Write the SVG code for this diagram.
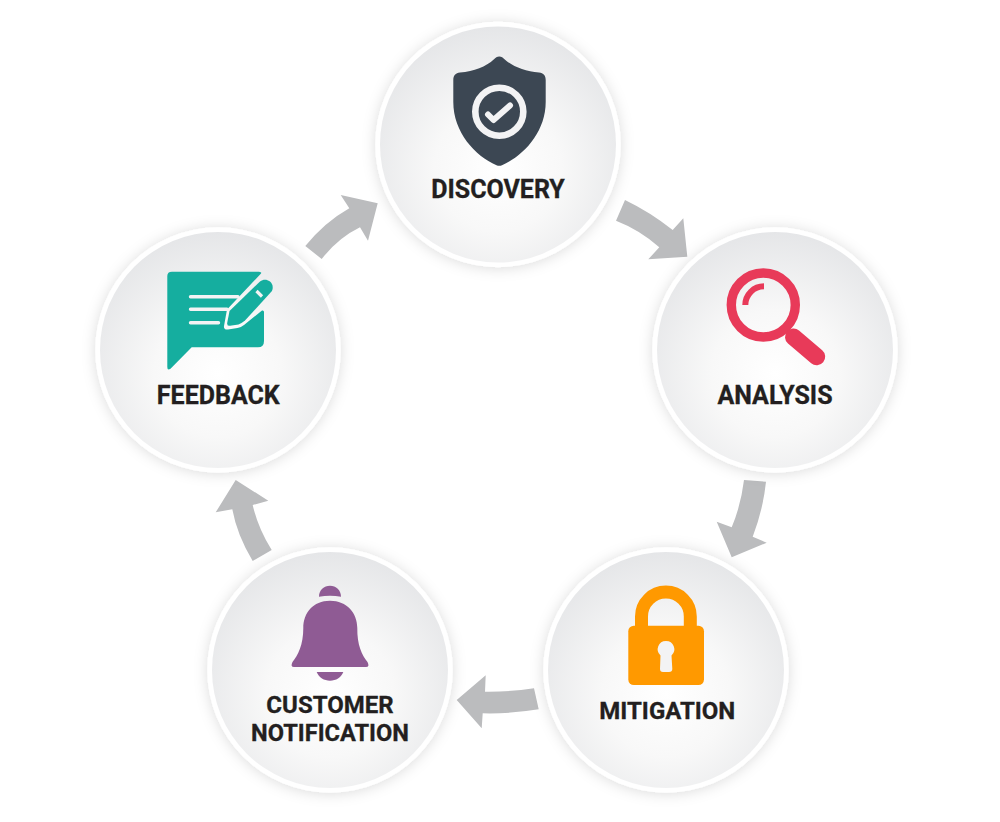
<svg xmlns="http://www.w3.org/2000/svg" width="1000" height="822" viewBox="0 0 1000 822">
<style>
.ring{fill:#fff;filter:url(#sh)}
.disc{fill:url(#g)}
.lbl{font-family:Roboto,"Liberation Sans",sans-serif;font-weight:700;font-size:25px;fill:#231f20;stroke:#231f20;stroke-width:0.3px;text-anchor:middle}
.sm{font-size:24px}
.arrow{fill:#bbbcbe}
.gap{fill:none;stroke:#f3f3f4;stroke-linecap:round}
</style>
<defs>
<radialGradient id="g" cx="0.5" cy="0.6" r="0.6">
<stop offset="0" stop-color="#ffffff"/><stop offset="0.45" stop-color="#f8f8f8"/><stop offset="1" stop-color="#e5e6e8"/>
</radialGradient>
<filter id="sh" x="-20%" y="-20%" width="140%" height="140%">
<feDropShadow dx="0" dy="1" stdDeviation="7" flood-color="#000" flood-opacity="0.14"/>
</filter>
</defs>
<rect width="1000" height="822" fill="#fff"/>
<g id="connectors">
<path class="arrow" d="M305.3,246Q325,222 349.3,208.3L340.7,195L377.7,203.3L368,240.7L360,227.3Q338,238 321.7,259Z"/>
<path class="arrow" d="M625,200Q650,212 672.7,230L683.3,218.3L687.3,256.7L648.3,259.3L659.3,247.3Q640,230 616,220.7Z"/>
<path class="arrow" d="M744,480Q741,505 731.7,527.3L716.7,521.7L731.7,557.3L766.7,542.7L752.7,536.7Q763,510 766,481.7Z"/>
<path class="arrow" d="M534,688.3Q510,692 485,691.7L485.7,675.3L456.7,700L481.7,728.3L482.7,713.3Q510,714 538.7,709.3Z"/>
<path class="arrow" d="M252.7,561Q237,535 232.3,509.3L215.7,512.3L235.7,480L268.3,500.7L252.7,505Q258,528 271.7,550Z"/>
</g>
<g id="discovery">
<circle class="ring" cx="498" cy="144.5" r="122.7"/>
<circle class="disc" cx="498" cy="144.5" r="118"/>
<path fill="#3c4753" d="M499.3,56.5C497,56.5 495.5,57.8 494,59.2C486,66.5 474,71.5 460,72.5C455.5,73 453.3,75.5 453.3,80V102C453.3,132 475,156 496.5,165.2Q499.3,166.2 502,165.2C523.5,156 545.7,132 545.7,102V80C545.7,75.5 543.5,73 539,72.5C525,71.5 512.5,66.5 504.5,59.2C503,57.8 501.5,56.5 499.3,56.5Z"/>
<circle cx="499.3" cy="111.7" r="24" fill="none" stroke="#f3f3f4" stroke-width="6.6"/>
<path d="M488,114.5L493.5,120L510,105.5" fill="none" stroke="#f3f3f4" stroke-width="6" stroke-linecap="round" stroke-linejoin="round"/>
<text class="lbl" x="498" y="198.3">DISCOVERY</text>
</g>
<g id="analysis">
<circle class="ring" cx="775" cy="350" r="122.7"/>
<circle class="disc" cx="775" cy="350" r="118"/>
<circle cx="763.3" cy="305" r="32" fill="none" stroke="#e83a59" stroke-width="9.4"/>
<path d="M745.3,305A18.7,18.7 0 0 1 764,286.3" fill="none" stroke="#e83a59" stroke-width="6"/>
<path d="M793.5,337L816.7,356.7" fill="none" stroke="#e83a59" stroke-width="17" stroke-linecap="round"/>
<text class="lbl" x="775" y="404">ANALYSIS</text>
</g>
<g id="mitigation">
<circle class="ring" cx="666" cy="670" r="122.7"/>
<circle class="disc" cx="666" cy="670" r="118"/>
<path d="M641.5,627V616.5A24.4,24.4 0 0 1 690.3,616.5V627" fill="none" stroke="#ff9900" stroke-width="13"/>
<rect x="628.3" y="625.7" width="75.7" height="59.3" rx="5.5" fill="#ff9900"/>
<path fill="#f3f3f4" d="M666,641A8.3,8.3 0 0 1 671.5,655.5L672.3,669Q672.3,672 669,672H663Q660,672 660,669L660.5,655.5A8.3,8.3 0 0 1 666,641Z"/>
<text class="lbl sm" x="667.3" y="719.3">MITIGATION</text>
</g>
<g id="customer-notification">
<circle class="ring" cx="330" cy="670" r="122.7"/>
<circle class="disc" cx="330" cy="670" r="118"/>
<g fill="#8f5b94">
<path d="M319,596.7C319,590 324,585.7 330,585.7C336,585.7 341,590 341,596.7C334,595.5 326,595.5 319,596.7Z"/>
<path d="M330,600.7C313,600.7 303.3,613 303.3,628C303.3,645 298,655 292.5,662Q290,667 294,667H366Q370,667 367.5,662C362,655 357,645 357.3,628C357.3,613 347,600.7 330,600.7Z"/>
<path d="M316.7,672H343.3C341,677.5 336,680.7 330,680.7C324,680.7 319,677.5 316.7,672Z"/>
</g>
<text class="lbl sm" x="330" y="712.7">CUSTOMER</text>
<text class="lbl" style="font-size:23.6px" x="330" y="741">NOTIFICATION</text>
</g>
<g id="feedback">
<circle class="ring" cx="218" cy="350" r="122.7"/>
<circle class="disc" cx="218" cy="350" r="118"/>
<g fill="#15ae9f">
<path d="M172,271.7H259Q262,272 261,273.5L227,309.5L224,326Q223.5,330 228,329.5L237.5,328Q241,327.5 244,325L262,310.5Q264,310 264,312V341Q264,347.3 258,347.3H191.7L170.5,368.8Q167.3,371 167.3,367V276Q167.3,271.7 172,271.7Z"/>
<path d="M229.5,311L260,281.5C265,278 271,280.5 272.5,285.5C273,288 272.5,290 271.5,291.5L245,320.5Q242,323 238.5,324.5L230,325.8Q226.8,326 227.2,323Z"/>
</g>
<path class="gap" stroke-width="3.4" d="M190.5,296.7H238M190.5,309.3H227M190.5,322.7H218.5"/>
<path d="M256.5,291L262,296.5" fill="none" stroke="#f3f3f4" stroke-width="3.2"/>
<text class="lbl" x="218.3" y="404">FEEDBACK</text>
</g>
</svg>
